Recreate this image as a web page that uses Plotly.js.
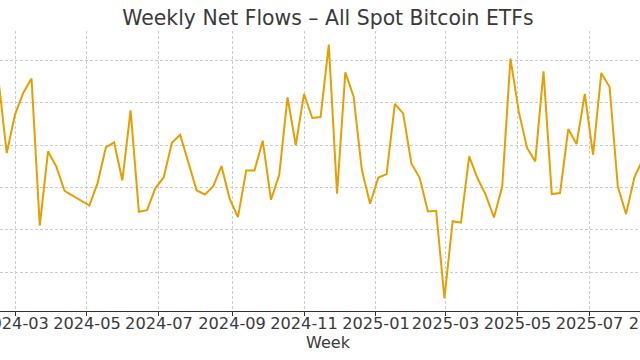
<!DOCTYPE html>
<html>
<head>
<meta charset="utf-8">
<script src="https://cdn.plot.ly/plotly-3.0.1.min.js"></script>
<style>
html,body{margin:0;padding:0;width:640px;height:360px;overflow:hidden;background:#fff;}
#chart{position:absolute;left:-30px;top:0;width:716px;height:360px;}
</style>
</head>
<body>
<div id="chart"></div>
<script>
// Week ending (Friday)
const weeks = [
 "2024-02-16","2024-02-23","2024-03-01","2024-03-08","2024-03-15","2024-03-22","2024-03-29",
 "2024-04-05","2024-04-12","2024-04-19","2024-04-26","2024-05-03","2024-05-10","2024-05-17",
 "2024-05-24","2024-05-31","2024-06-07","2024-06-14","2024-06-21","2024-06-28","2024-07-05",
 "2024-07-12","2024-07-19","2024-07-26","2024-08-02","2024-08-09","2024-08-16","2024-08-23",
 "2024-08-30","2024-09-06","2024-09-13","2024-09-20","2024-09-27","2024-10-04","2024-10-11",
 "2024-10-18","2024-10-25","2024-11-01","2024-11-08","2024-11-15","2024-11-22","2024-11-29",
 "2024-12-06","2024-12-13","2024-12-20","2024-12-27","2025-01-03","2025-01-10","2025-01-17",
 "2025-01-24","2025-01-31","2025-02-07","2025-02-14","2025-02-21","2025-02-28","2025-03-07",
 "2025-03-14","2025-03-21","2025-03-28","2025-04-04","2025-04-11","2025-04-18","2025-04-25",
 "2025-05-02","2025-05-09","2025-05-16","2025-05-23","2025-05-30","2025-06-06","2025-06-13",
 "2025-06-20","2025-06-27","2025-07-04","2025-07-11","2025-07-18","2025-07-25","2025-08-01",
 "2025-08-08","2025-08-15"
];
// Net flows, USD millions
const netFlows = [
 2550, 815, 1723, 2237, 2576, -900, 853,
 498, -78, -194, -310, -427, 104, 948,
 1066, 166, 1825, -576, -536, -14, 237,
 1059, 1248, 592, -71, -166, 24, 507,
 -268, -701, 403, 403, 1106, -291, 301,
 2131, 1004, 2212, 1643, 1667, 3379, -149,
 2723, 2155, 419, -386, 237, 317, 1975,
 1752, 568, 230, -568, -552, -2619, -796,
 -829, 734, 223, -173, -710, 24, 3048,
 1800, 940, 616, 2747, -156, -133, 1383,
 1028, 2212, 774, 2709, 2377, 24, -630,
 237, 656
];
const tickVals = ["2024-01-01","2024-03-01","2024-05-01","2024-07-01","2024-09-01","2024-11-01",
 "2025-01-01","2025-03-01","2025-05-01","2025-07-01","2025-09-01"];
const tickText = ["2024-01","2024-03","2024-05","2024-07","2024-09","2024-11",
 "2025-01","2025-03","2025-05","2025-07","2025-09"];

// x range: 2024-03-01 sits 45px into the plot, 1.1797 px per day, plot width 716px
const DAY = 86400000;
const anchor = Date.parse("2024-03-01T00:00:00Z");
const pxPerDay = 1.1797;
const x0 = new Date(anchor - (45 / pxPerDay) * DAY);
const x1 = new Date(anchor + ((716 - 45) / pxPerDay) * DAY);
const iso = d => d.toISOString().replace("T", " ").slice(0, 19);

const trace = {
  x: weeks, y: netFlows, type: "scatter", mode: "lines",
  line: {color: "#E69F00", width: 2}, hoverinfo: "x+y"
};
const font = "DejaVu Sans, sans-serif";
const layout = {
  width: 716, height: 360,
  margin: {l: 0, r: 0, t: 31, b: 49, pad: 0},
  paper_bgcolor: "#fff", plot_bgcolor: "#fff",
  showlegend: false,
  font: {family: font, color: "#3a3a3a", size: 16.2},
  title: {text: "Weekly Net Flows – All Spot Bitcoin ETFs", font: {family: font, size: 20.4, color: "#3a3a3a"},
          x: 0.5, xanchor: "center", y: 1 - 18/360, yref: "container", yanchor: "middle"},
  xaxis: {
    type: "date", range: [iso(x0), iso(x1)], autorange: false,
    tickmode: "array", tickvals: tickVals, ticktext: tickText, tickangle: 0,
    ticks: "outside", ticklen: 4, tickwidth: 1, tickcolor: "#333",
    ticklabeloverflow: "allow", ticklabelstandoff: -6,
    showline: true, linecolor: "#333", linewidth: 1,
    showgrid: true, gridcolor: "#cccccc", griddash: "3px,2px", gridwidth: 1,
    zeroline: false, automargin: false,
    tickfont: {family: font, size: 16.2, color: "#3a3a3a"},
    title: {text: "Week", font: {family: font, size: 16, color: "#3a3a3a"}, standoff: 4}
  },
  yaxis: {
    range: [-2921, 3701], autorange: false,
    dtick: 1000, tick0: 0,
    showticklabels: false, ticks: "",
    showline: false, zeroline: false,
    showgrid: true, gridcolor: "#cccccc", griddash: "3px,2px", gridwidth: 1,
    automargin: false
  }
};
Plotly.newPlot("chart", [trace], layout, {displayModeBar: false, staticPlot: true});
</script>
</body>
</html>
